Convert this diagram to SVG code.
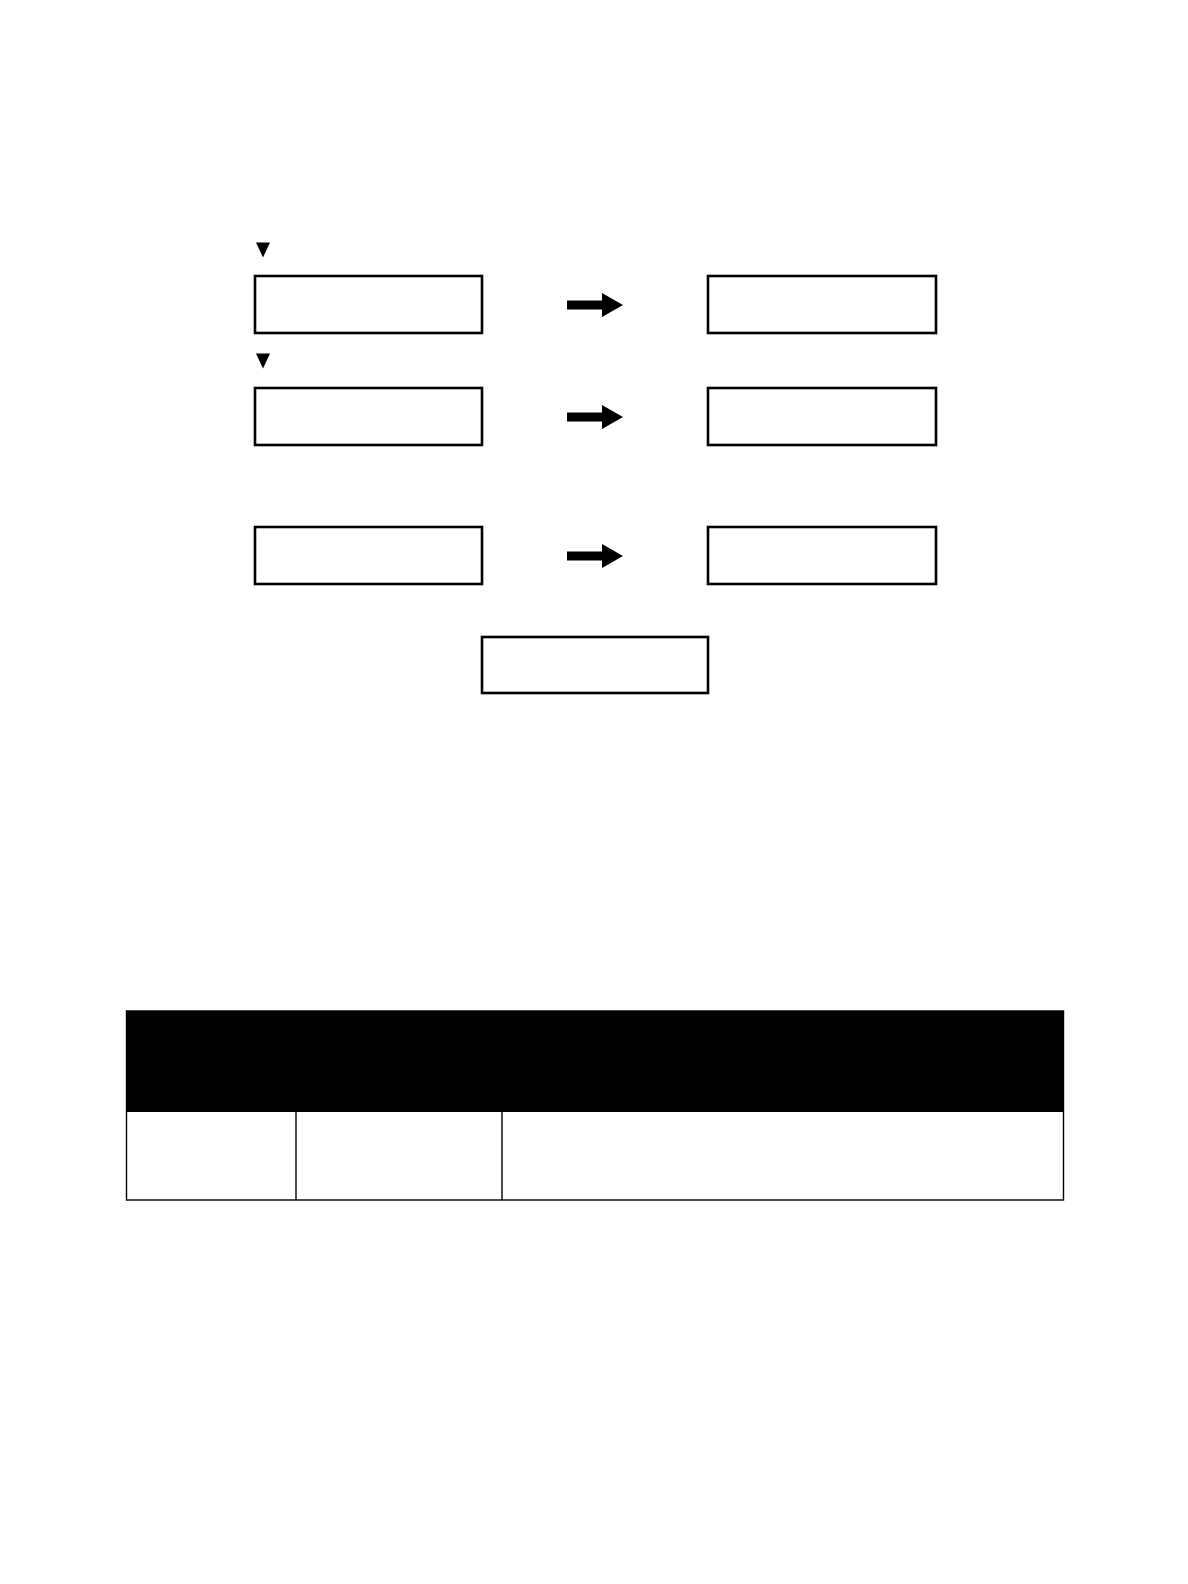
<svg xmlns="http://www.w3.org/2000/svg" width="1188" height="1584" viewBox="0 0 1188 1584">
<style>
.box{fill:#fff;stroke:#000;stroke-width:2.6}
.arr{fill:#000}
.tl{stroke:#000;stroke-width:1.4;fill:none}
</style>
<defs>
<path id="arrow" class="arr" d="M0,-4.5 L35,-4.5 L35,-12 L56,0 L35,12 L35,4.5 L0,4.5 Z"/>
<path id="tri" class="arr" d="M0,0 L14,0 L7,15 Z"/>
</defs>
<rect width="1188" height="1584" fill="#fff"/>
<g id="marker1"><use href="#tri" x="256" y="242.5"/></g>
<g id="marker2"><use href="#tri" x="256" y="353.5"/></g>
<g id="box-l1"><rect class="box" x="255" y="276" width="227" height="57"/></g>
<g id="box-r1"><rect class="box" x="708" y="276" width="228" height="57"/></g>
<g id="box-l2"><rect class="box" x="255" y="388" width="227" height="57"/></g>
<g id="box-r2"><rect class="box" x="708" y="388" width="228" height="57"/></g>
<g id="box-l3"><rect class="box" x="255" y="527" width="227" height="57"/></g>
<g id="box-r3"><rect class="box" x="708" y="527" width="228" height="57"/></g>
<g id="box-bottom"><rect class="box" x="482" y="637" width="226" height="56"/></g>
<g id="connectors">
<use href="#arrow" x="567" y="305"/>
<use href="#arrow" x="567" y="417"/>
<use href="#arrow" x="567" y="556"/>
</g>
<g id="table">
<rect x="126" y="1011" width="938" height="101" fill="#000"/>
<rect class="tl" x="126.5" y="1011" width="937" height="189"/>
<line class="tl" x1="296" y1="1112" x2="296" y2="1200"/>
<line class="tl" x1="502" y1="1112" x2="502" y2="1200"/>
</g>
</svg>
